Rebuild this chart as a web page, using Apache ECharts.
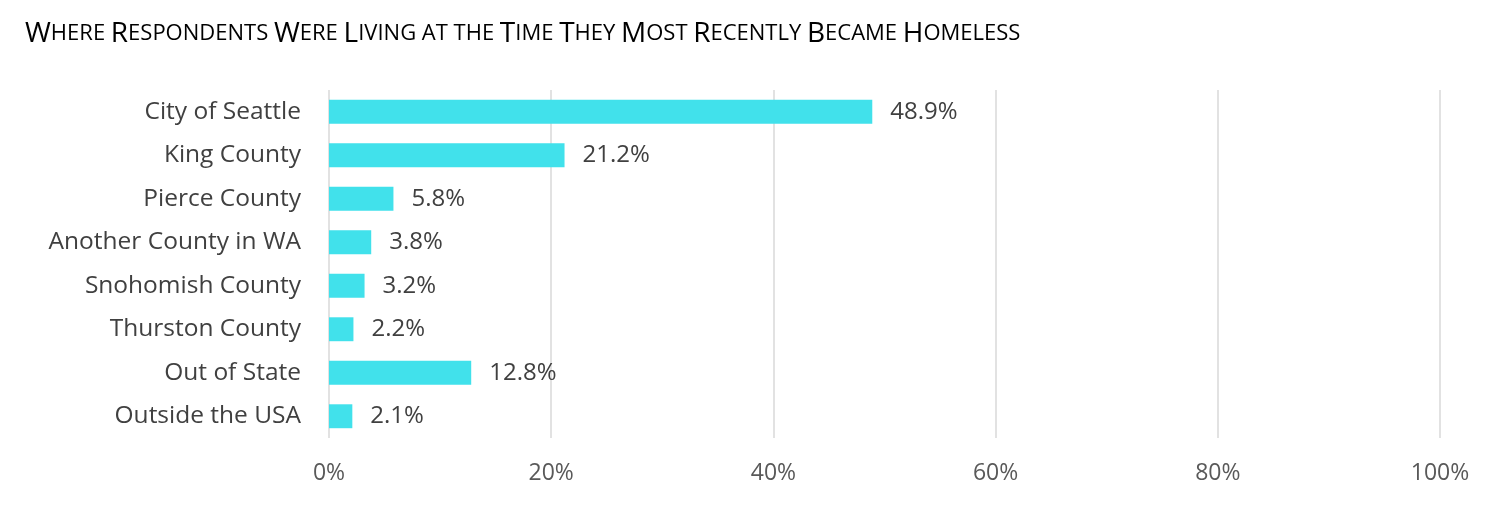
<!DOCTYPE html>
<html><head><meta charset="utf-8">
<script src="https://cdn.jsdelivr.net/npm/echarts@6/dist/echarts.min.js"></script>
<style>html,body{margin:0;padding:0;background:#fff}#c{width:1496px;height:522px}</style>
</head><body><div id="c"></div>
<script>
const titleText = "Where Respondents Were Living at the Time They Most Recently Became Homeless";
const categories = ["City of Seattle","King County","Pierce County","Another County in WA","Snohomish County","Thurston County","Out of State","Outside the USA"];
const values = [48.9,21.2,5.8,3.8,3.2,2.2,12.8,2.1];
const xTicks = [0,20,40,60,80,100];

// build small-caps rich text
function smallCaps(s){
  let out = "", cur = null, buf = "";
  const flush = () => { if (buf) { out += "{" + cur + "|" + buf + "}"; buf = ""; } };
  for (const ch of s) {
    let st;
    if (ch === " ") st = cur || "s";
    else if (ch === ch.toUpperCase() && ch !== ch.toLowerCase()) st = "b";
    else st = "s";
    if (st !== cur) { flush(); cur = st; }
    buf += (st === "s") ? ch.toUpperCase() : ch;
  }
  flush();
  return out;
}
const FONT = "Open Sans";
const chart = echarts.init(document.getElementById('c'), null, {renderer:'canvas'});
chart.setOption({
  animation:false,
  title:{
    text: smallCaps(titleText), left: 20, top: 15,
    textStyle:{ rich:{
      b:{fontFamily:FONT, fontSize:28, color:'#000', fontWeight:'normal'},
      s:{fontFamily:FONT, fontSize:22, color:'#000', fontWeight:'normal'}
    }}
  },
  grid:{left:329, right:56, top:90, bottom:84},
  xAxis:{
    type:'value', min:xTicks[0], max:xTicks[xTicks.length-1], interval:xTicks[1]-xTicks[0],
    axisLine:{show:false}, axisTick:{show:false},
    splitLine:{lineStyle:{color:'#d9d9d9', width:1.5}},
    axisLabel:{formatter: v => v + '%', fontFamily:FONT, fontSize:23, color:'#595959', margin:24}
  },
  yAxis:{
    type:'category', data:categories, inverse:true,
    axisLine:{show:false}, axisTick:{show:false},
    axisLabel:{fontFamily:FONT, fontSize:24.5, color:'#404040', margin:28, padding:[3,0,0,0]}
  },
  series:[{
    type:'bar', data:values, barCategoryGap:'45%',
    itemStyle:{color:'#41E1EB'},
    label:{show:true, position:'right', distance:18, formatter: p => p.value.toFixed(1) + '%',
      fontFamily:FONT, fontSize:24, color:'#404040', padding:[4,0,0,0]}
  }]
});
</script></body></html>
